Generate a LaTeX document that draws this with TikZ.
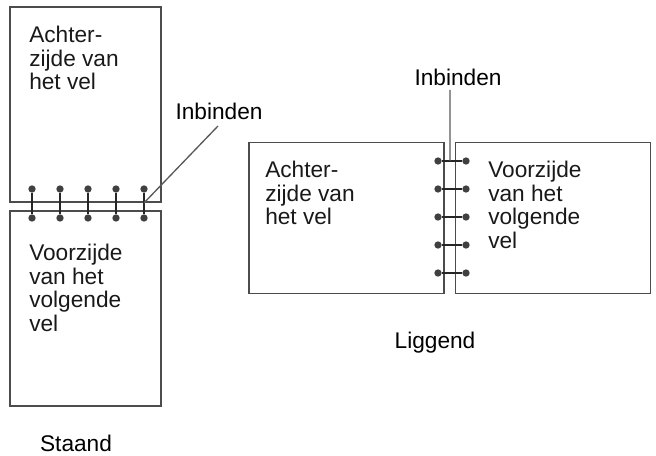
\documentclass[tikz,border=0pt]{standalone}
\usepackage{fontspec}
\setmainfont{Liberation Sans}
\usetikzlibrary{positioning,calc}
\tikzset{
    every node/.style={font=\fontsize{17}{17.6}\selectfont},
    sheetv/.style={draw=black!70, line width=1.2pt, minimum width=113.25pt, minimum height=146.25pt, inner sep=0pt, outer sep=0pt},
    sheeth/.style={draw=black!70, line width=1.2pt, minimum width=146.25pt, minimum height=113.25pt, inner sep=0pt, outer sep=0pt},
    sheettext/.style={align=left, inner sep=0pt, anchor=north west, text=black!90},
    hole/.style={circle, fill=black!75, minimum size=5.5pt, inner sep=0pt, outer sep=0pt},
    ring/.style={black!85, line width=2.2pt},
    leader/.style={black!65, line width=1pt},
}
\begin{document}
\begin{tikzpicture}[x=0.75pt,y=0.75pt]
\useasboundingbox (0,0) rectangle (656,-456);
% staand
   \node[sheetv] (backv) at (85.5,-104.5) {};
   \node[sheetv, below=6.75pt of backv] (frontv) {};
   \node[sheettext] (backvtext) at (29,-26) {Achter-\\zijde van\\het vel};
   \node[sheettext] (frontvtext) at (29,-244) {Voorzijde\\van het\\volgende\\vel};
   \node (staand) at (76,-443) {Staand};
   \foreach \i/\x in {1/32,2/60,3/88,4/116,5/144} {
      \node[hole] (vt\i) at (\x,-189) {};
      \node[hole] (vb\i) at (\x,-218) {};
      \draw[ring] (vt\i) -- (vb\i);
   }
   \node (inbindenv) at (219,-111) {Inbinden};
   \coordinate (vend) at ($(vt5)!0.48!(vb5)$);
   \coordinate (vstart) at (218,-126);
   \draw[leader] (vstart) -- (vend);
% liggend
   \node[sheeth] (backh) at (346.5,-218) {};
   \node[sheeth, right=8.6pt of backh] (fronth) {};
   \node[sheettext] (backhtext) at (265,-161) {Achter-\\zijde van\\het vel};
   \node[sheettext] (fronthtext) at (488,-161) {Voorzijde\\van het\\volgende\\vel};
   \node (liggend) at (435,-343) {Liggend};
   \foreach \i/\y in {1/161,2/189,3/217,4/245,5/273} {
      \node[hole] (hl\i) at (438,-\y) {};
      \node[hole] (hr\i) at (466,-\y) {};
      \draw[ring] (hl\i) -- (hr\i);
   }
   \node (inbindenh) at (458,-77) {Inbinden};
   \coordinate (hstart) at (450,-90);
   \coordinate (hend) at ($(hl1)!0.43!(hr1)$);
   \draw[leader] (hstart) -- (hend);
\end{tikzpicture}
\end{document}
